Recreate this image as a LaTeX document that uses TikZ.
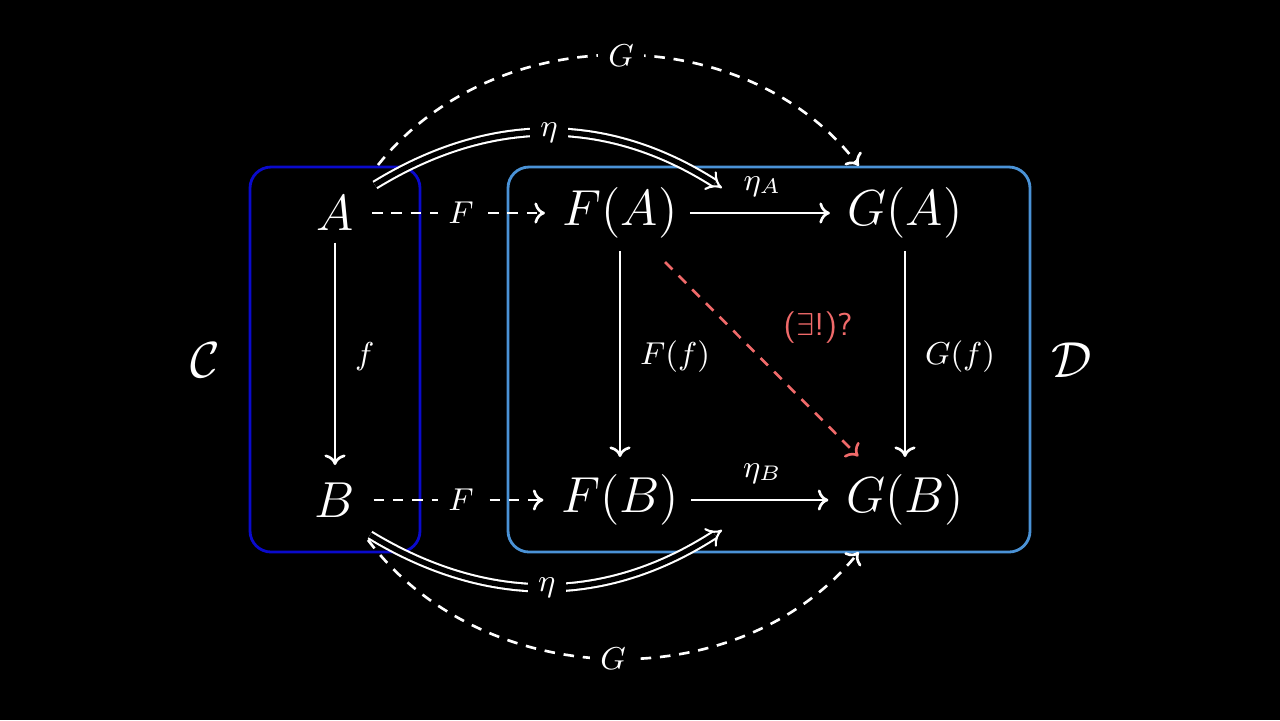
\documentclass[tikz,border=0pt]{standalone}
\usepackage{amssymb}
\usetikzlibrary{arrows.meta}
\begin{document}
\begin{tikzpicture}[x=0.01cm,y=-0.01cm,
  obj/.style={text=white,font=\fontsize{14.5}{16}\selectfont},
  lbl/.style={text=white,font=\fontsize{9}{10}\selectfont},
  arr/.style={draw=white,line width=0.75pt,shorten >=1.5pt,-{To[length=3pt,width=6pt]}},
  darr/.style={arr,dash pattern=on 3pt off 2.5pt},
  dbl/.style={draw=white,double=black,double distance=1.5pt,line width=0.6pt,-{Implies[length=3pt]}}]
\fill[black] (0,0) rectangle (1280,720);
\useasboundingbox (0,0) rectangle (1280,720);
\definecolor{dblue}{HTML}{0A0ACC}
\definecolor{lblue}{HTML}{4A92D6}
\definecolor{rd}{HTML}{F06A6A}
\draw[dblue,line width=0.8pt,rounded corners=6pt] (250,167) rectangle (420,552);
\draw[lblue,line width=0.8pt,rounded corners=6pt] (508,167) rectangle (1030,552);
\node[obj] (A) at (335,213) {$A$};
\node[obj] (B) at (335,500) {$B$};
\node[obj] (FA) at (620,213) {$F(A)$};
\node[obj] (FB) at (620,500) {$F(B)$};
\node[obj] (GA) at (905,213) {$G(A)$};
\node[obj] (GB) at (905,500) {$G(B)$};
\node[obj] (C) at (205,360) {$\mathcal{C}$};
\node[obj] (D) at (1072,360) {$\mathcal{D}$};
\draw[darr] (A.east) ++(6,0) coordinate (a1) (a1) -- node[lbl,fill=black,inner sep=3pt]{$F$} (FA.west);
\draw[darr] (B.east) ++(6,0) coordinate (b1) (b1) -- node[lbl,fill=black,inner sep=3pt]{$F$} (FB.west);
\draw[arr] (A) -- node[lbl,right=2pt]{$f$} (B);
\draw[arr] (FA) -- node[lbl,right=2pt]{$F(f)$} (FB);
\draw[arr] (GA) -- node[lbl,right=2pt]{$G(f)$} (GB);
\draw[arr] (FA) -- node[lbl,above=1pt]{$\eta_A$} (GA);
\draw[arr] (FB) -- node[lbl,above=1pt]{$\eta_B$} (GB);
\coordinate (r1) at (665,262); \coordinate (r2) at (862,460);
\draw[darr,draw=rd] (r1) -- (r2);
\node[text=rd,font=\fontsize{9}{10}\sffamily] (q) at (818,328) {($\exists$!)?};
\coordinate (gt1) at (378,165); \coordinate (gt2) at (862,170);
\coordinate (gb1) at (368,540); \coordinate (gb2) at (862,548);
\draw[darr] (gt1) to[bend left=52] node[lbl,fill=black,inner sep=3pt]{$G$} (gt2);
\draw[darr] (gb1) to[bend right=52] node[lbl,fill=black,inner sep=3pt]{$G$} (gb2);
\coordinate (et1) at (375,185); \coordinate (et2) at (722,188);
\coordinate (eb1) at (370,535); \coordinate (eb2) at (722,530);
\draw[dbl] (et1) to[bend left=32] node[lbl,fill=black,inner sep=3pt]{$\eta$} (et2);
\draw[dbl] (eb1) to[bend right=32] node[lbl,fill=black,inner sep=3pt]{$\eta$} (eb2);
\end{tikzpicture}
\end{document}
